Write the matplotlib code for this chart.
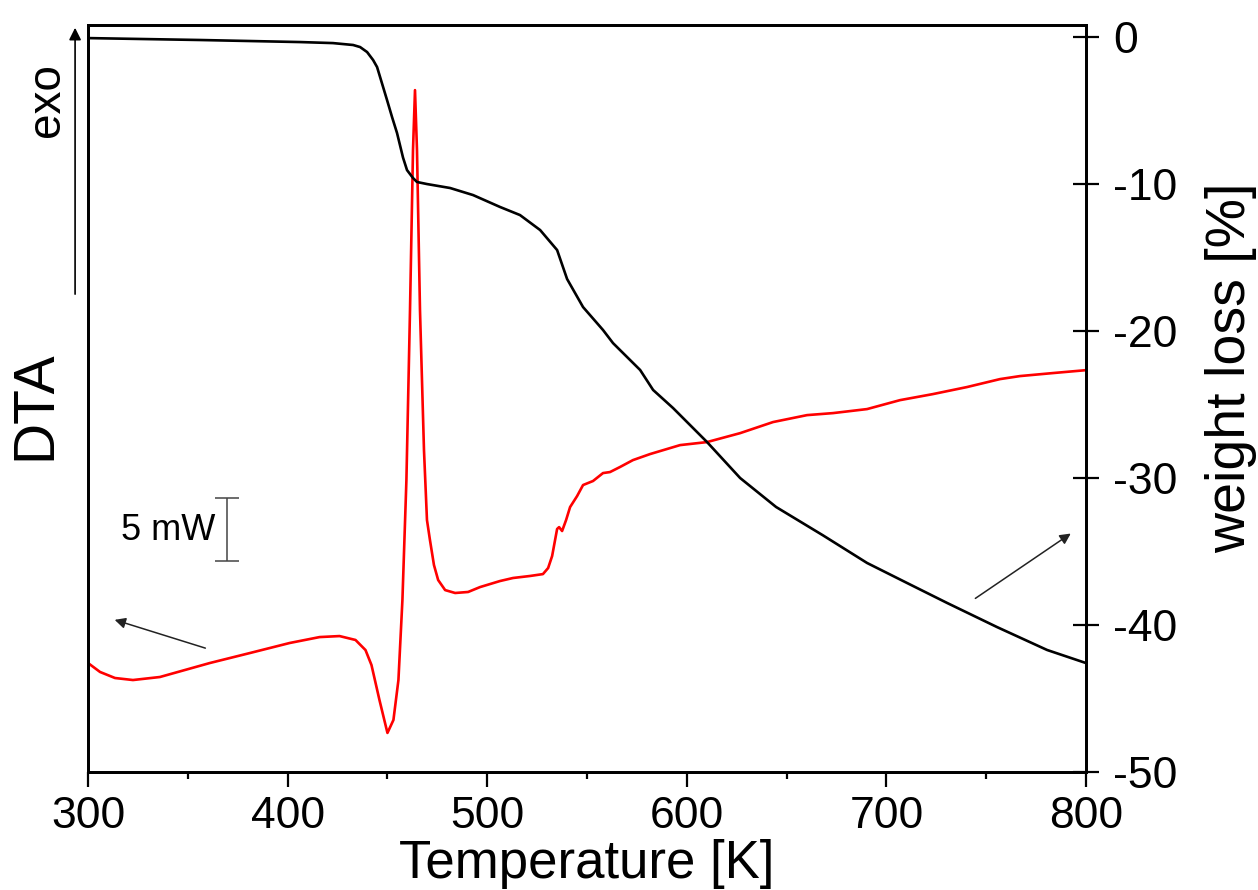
import matplotlib
matplotlib.use('Agg')
import matplotlib.pyplot as plt
from matplotlib.ticker import MultipleLocator

plt.rcParams['font.family'] = ['Liberation Sans', 'DejaVu Sans']
plt.rcParams['axes.unicode_minus'] = False

# DTA curve (red), temperature [K] vs signal [mW], arbitrary offset
dta_T = [300, 306, 313.5, 322.5, 336, 361, 381, 401, 416, 426, 434, 439, 442, 446,
         450, 453, 455.5, 457.5, 459.5, 461.3, 462.8, 463.8, 464.8, 466.3, 468.3,
         469.8, 471.3, 473.3, 475.4, 478.9, 483.9, 490.4, 496.4, 506.4, 512.9,
         521.4, 527.9, 530.5, 532.5, 535, 536, 537.5, 539.5, 541.5, 545, 548, 553,
         558, 561.5, 566.5, 573, 581.6, 596.6, 610.1, 626.7, 643.2, 660.2, 673.2,
         690.3, 706.8, 723.3, 740.4, 756.9, 766.9, 783.5, 800]
dta_mW = [8.65, 7.94, 7.46, 7.30, 7.54, 8.65, 9.44, 10.24, 10.71, 10.79, 10.48, 9.68,
          8.49, 5.71, 3.10, 4.13, 7.30, 13.65, 23.17, 36.67, 49.37, 54.13, 49.37,
          36.67, 25.56, 20.0, 18.41, 16.43, 15.24, 14.44, 14.21, 14.29, 14.68, 15.16,
          15.40, 15.56, 15.71, 16.19, 17.14, 19.29, 19.44, 19.13, 20.0, 21.03, 21.9,
          22.78, 23.10, 23.73, 23.81, 24.21, 24.76, 25.24, 25.95, 26.19, 26.90, 27.78,
          28.33, 28.49, 28.81, 29.52, 30.0, 30.56, 31.19, 31.43, 31.67, 31.90]

# TG curve (black), weight loss [%]
tg_T = [300, 356.1, 406.2, 422.7, 432.8, 436.3, 439.8, 442.8, 444.8, 449.8, 452.3,
        454.8, 457.8, 459.8, 462.8, 464.8, 469.8, 481.4, 492.9, 506.4, 516.4, 526.5,
        535, 540, 548, 558, 563, 576.6, 583.1, 593.1, 610.1, 626.7, 644.7, 668.2,
        690.3, 710.3, 730.4, 755.4, 780.5, 800]
tg_loss = [-0.07, -0.2, -0.34, -0.41, -0.54, -0.68, -1.02, -1.56, -2.04, -4.29, -5.44,
           -6.53, -8.2, -9.05, -9.59, -9.86, -10.0, -10.27, -10.75, -11.56, -12.11,
           -13.13, -14.49, -16.46, -18.37, -19.93, -20.82, -22.65, -24.01, -25.24,
           -27.55, -30.0, -31.97, -33.9, -35.78, -37.14, -38.5, -40.14, -41.7, -42.59]

fig = plt.figure(figsize=(12.58, 8.90), dpi=100)
ax = fig.add_axes([0.07, 0.1326, 0.7933, 0.8393])
ax2 = ax.twinx()

ax.plot(dta_T, dta_mW, color='red', lw=1.9)
ax2.plot(tg_T, tg_loss, color='black', lw=1.9)

ax.set_xlim(300, 800)
ax.set_ylim(0, 59.3)
ax2.set_ylim(-50, 0.82)

for a in (ax, ax2):
    for s in a.spines.values():
        s.set_linewidth(2.0)

ax.xaxis.set_major_locator(MultipleLocator(100))
ax.xaxis.set_minor_locator(MultipleLocator(50))
ax.tick_params(axis='x', which='major', direction='out', length=11, width=1.6,
               labelsize=32, pad=6.5)
ax.tick_params(axis='x', which='minor', direction='out', length=5, width=1.6)
ax.tick_params(axis='y', left=False, labelleft=False)
ax2.yaxis.set_major_locator(MultipleLocator(10))
ax2.tick_params(axis='y', direction='inout', length=19, width=1.6, labelsize=32, pad=10)

ax.set_xlabel('Temperature [K]', fontsize=38, labelpad=1)
ax.set_ylabel('DTA', fontsize=41)
ax.yaxis.set_label_coords(-0.026, 0.491)
ax2.set_ylabel('weight loss [%]', fontsize=40)
ax2.yaxis.set_label_coords(1.119, 0.541)

# exo arrow and label
ax.annotate('', xy=(-0.013, 1.0), xytext=(-0.013, 0.636), xycoords='axes fraction',
            arrowprops=dict(arrowstyle='-|>', color='black', lw=1.2,
                            mutation_scale=18), annotation_clip=False)
ax.text(-0.041, 0.90, 'exo', transform=ax.transAxes, rotation=90, fontsize=33,
        ha='center', va='center')

# 5 mW scale bar
ax.errorbar([369.6], [19.25], yerr=2.5, fmt='none', ecolor='#444444', elinewidth=1.1,
            capsize=8.6, capthick=1.1)
ax.text(363.6, 19.2, '5 mW', fontsize=26, ha='right', va='center')

# curve pointers
ax.annotate('', xy=(0.024, 0.2048), xytext=(0.1202, 0.1647), xycoords='axes fraction',
            arrowprops=dict(arrowstyle='-|>', color='#222222', lw=1.1, mutation_scale=16))
ax.annotate('', xy=(0.987, 0.3213), xytext=(0.8868, 0.2303), xycoords='axes fraction',
            arrowprops=dict(arrowstyle='-|>', color='#222222', lw=1.1, mutation_scale=16))

fig.savefig('out.png', dpi=100)
